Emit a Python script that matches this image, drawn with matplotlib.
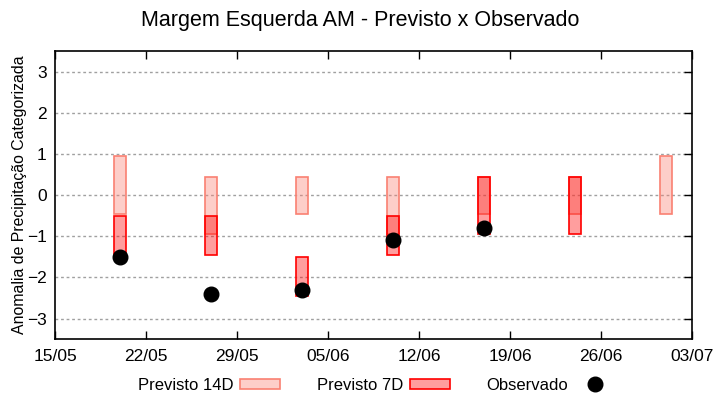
import datetime as dt
import matplotlib
matplotlib.use('Agg')
import matplotlib.pyplot as plt
import matplotlib.dates as mdates
from matplotlib.patches import Patch
from matplotlib.lines import Line2D

plt.rcParams['font.family'] = ['Liberation Sans', 'DejaVu Sans']

# dates of the forecasts (centre of each box)
datas = ['2024-05-20', '2024-05-27', '2024-06-03', '2024-06-10',
         '2024-06-17', '2024-06-24', '2024-07-01']
# forecast 14 days: (top, bottom)
prev14_top = [0.95, 0.45, 0.45, 0.45, 0.45, 0.45, 0.95]
prev14_bot = [-0.45, -0.95, -0.45, -0.95, -0.45, -0.45, -0.45]
# forecast 7 days, None = no forecast
prev7_top = [-0.5, -0.5, -1.5, -0.5, 0.45, 0.45, None]
prev7_bot = [-1.5, -1.45, -2.45, -1.45, -0.95, -0.95, None]
# observed
obs_datas = ['2024-05-20', '2024-05-27', '2024-06-03', '2024-06-10', '2024-06-17']
obs_vals = [-1.5, -2.4, -2.3, -1.1, -0.8]

dias = [mdates.date2num(dt.datetime.strptime(d, '%Y-%m-%d')) for d in datas]
obs_dias = [mdates.date2num(dt.datetime.strptime(d, '%Y-%m-%d')) for d in obs_datas]

cor14 = '#fa8072'
cor7 = '#ff0000'
fill14 = (250/255, 128/255, 114/255, 0.38)
fill7 = (1, 0, 0, 0.38)
largura = 0.95

fig = plt.figure(figsize=(7.2, 4.0), dpi=100)
ax = fig.add_axes([0.0764, 0.152, 0.8847, 0.7205])

for x, t, b in zip(dias, prev14_top, prev14_bot):
    ax.bar(x, t - b, bottom=b, width=largura, facecolor=fill14,
           edgecolor=cor14, linewidth=1.2, zorder=2)
for x, t, b in zip(dias, prev7_top, prev7_bot):
    if t is None:
        continue
    ax.bar(x, t - b, bottom=b, width=largura, facecolor=fill7,
           edgecolor=cor7, linewidth=1.2, zorder=3)

ax.plot(obs_dias, obs_vals, 'o', color='black', markersize=10.5, zorder=4)

inicio = dt.datetime(2024, 5, 15)
ax.set_xlim(mdates.date2num(inicio), mdates.date2num(dt.datetime(2024, 7, 3)))
ax.set_ylim(-3.5, 3.5)
ticks = [mdates.date2num(inicio + dt.timedelta(days=7 * i)) for i in range(8)]
ax.set_xticks(ticks)
ax.xaxis.set_major_formatter(mdates.DateFormatter('%d/%m'))
ax.set_yticks([-3, -2, -1, 0, 1, 2, 3])
ax.tick_params(direction='in', top=True, right=True, length=6, width=1, labelsize=12.5, pad=7)
ax.tick_params(axis='y', left=False, pad=6)
ax.grid(axis='y', linestyle=(0, (2, 2)), color='#a0a0a0', linewidth=1, zorder=0)
ax.set_axisbelow(True)
for s in ax.spines.values():
    s.set_linewidth(1.2)

ax.set_ylabel('Anomalia de Precipitação Categorizada', fontsize=11.4, labelpad=0)
fig.suptitle('Margem Esquerda AM - Previsto x Observado', fontsize=15.5, y=0.975)

handles = [Patch(facecolor=fill14, edgecolor=cor14, linewidth=1.2),
           Patch(facecolor=fill7, edgecolor=cor7, linewidth=1.2),
           Line2D([], [], marker='o', color='black', linestyle='none', markersize=10.5)]
fig.legend(handles, ['Previsto 14D', 'Previsto 7D', 'Observado'], loc='center',
           bbox_to_anchor=(0.523, 0.037), ncol=3, frameon=False, markerfirst=False,
           fontsize=12, handlelength=2.4, handleheight=0.5, columnspacing=2.2, handletextpad=0.4)

fig.savefig('out.png', dpi=100)
